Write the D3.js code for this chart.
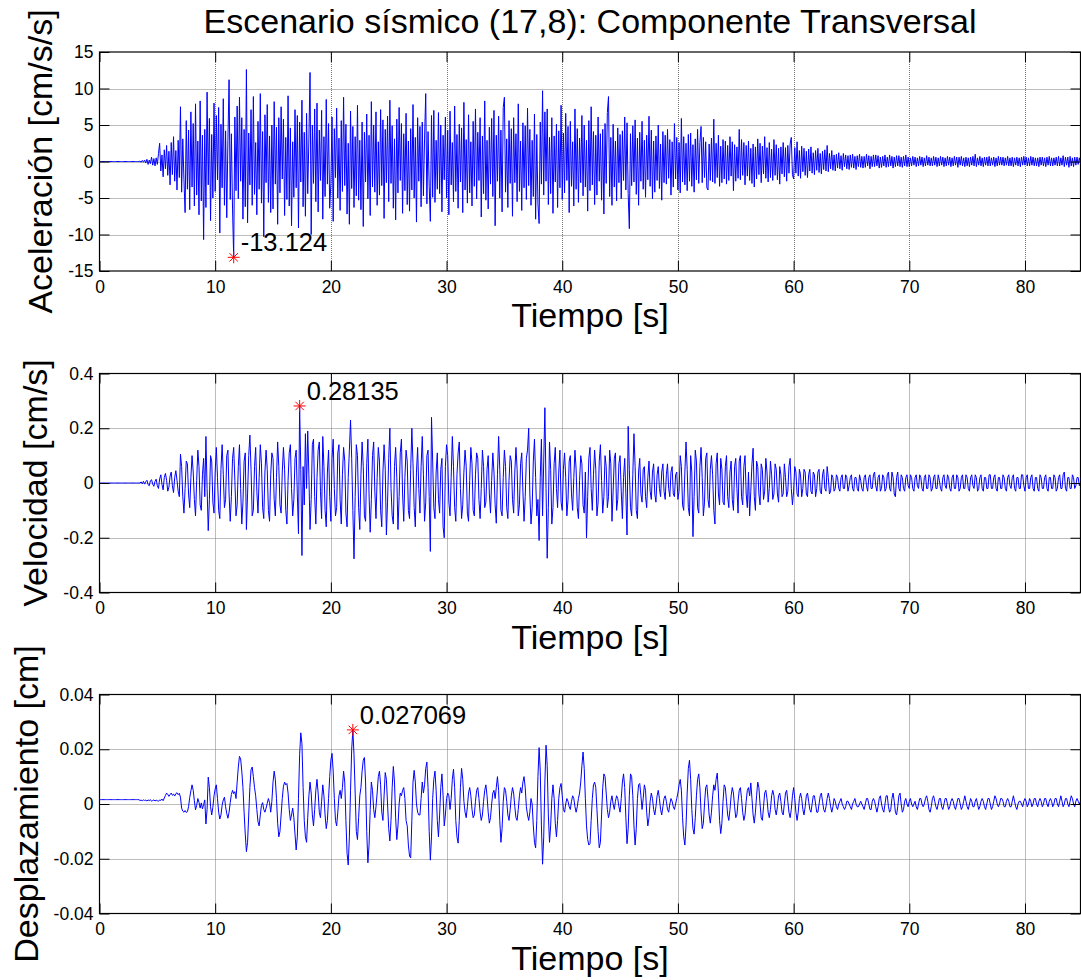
<!DOCTYPE html>
<html>
<head>
<meta charset="utf-8">
<script src="https://cdn.jsdelivr.net/npm/d3@7"></script>
<style>
  body { margin: 0; background: #fff; }
  text { font-family: "Liberation Sans", Arial, Helvetica, sans-serif; }
</style>
</head>
<body>
<script>
// sampling step of the records [s]
var dt = 0.1;
var tiempoMax = 84.8;

var titulo = "Escenario sísmico (17,8): Componente Transversal";
var etiquetaX = "Tiempo [s]";
var xTicks = [0, 10, 20, 30, 40, 50, 60, 70, 80];
var ticksAceleracion = [-15, -10, -5, 0, 5, 10, 15];
var ticksVelocidad = [-0.4, -0.2, 0, 0.2, 0.4];
var ticksDesplazamiento = [-0.04, -0.02, 0, 0.02, 0.04];

// Aceleracion [cm/s/s], one row per second
var aceleracion = [
0,0,0,0,0,0,0,0,0,0,
0,0,0,0,0,0,0,0,0,0,
0,0,0,0,0,0,0,0,0,0,
0,0,0,0,0,0.05,-0.1,0.15,-0.1,0.2,
-0.2,0.3,-0.4,0.2,-0.3,0.6,-0.5,0.4,-0.6,0.5,
-0.4,1.1,2.5,-1.3,0.9,-2.1,1.6,-1,2.2,-1.9,
1.4,-3.2,2.6,-1.8,3.4,-2.7,1.5,-3.9,2.9,-2.2,
7.5,-4.2,3.1,-2.5,-7,5.6,-3.8,4.3,-6.6,6.8,
-3.5,5.2,-6.1,7.9,-4.6,2.8,-7.3,8.3,-5.4,3.6,
-10.7,4.4,-6.3,9.5,-3.2,5.9,-8.1,3.7,-5,8,
-4.1,6.3,-2.5,7.4,-9.8,5.1,-3.6,8.6,-6,4.2,
-7.7,2.9,11.2,-5.2,3.8,-6.5,-13.124,6.1,-4,7.6,
-5.1,8.8,-2.7,6,-7.9,4.4,-6.2,12.6,-8.4,3.9,
-3.2,7.1,-6,8.9,-4.5,2.6,-7.3,5.5,-3.8,9.3,
-5.7,4.1,-10.3,6.4,-2.9,7.8,-5.6,3.5,-7,5,
-6.5,8.2,-3.1,4.7,-8.6,6,-4.3,7.5,-2.4,5.8,
-7.4,3.3,-5.2,9,-6.1,4.6,-8.8,2.7,-4.9,7.1,
-3.6,6.3,-9.1,5.4,-2.8,8.4,-6.2,4,-7.5,6.6,
-4.4,3.1,12.2,-10,5,-3,7.2,-5.5,8,-6.9,
4.3,-2.6,7,-7.9,3.4,-4.8,8.5,-3.1,5.2,-6.4,
-3,6.1,-8.2,4.5,-2.2,7.3,-5,3.2,-6.7,5.6,
-4.1,8.8,-3.3,5.1,-7.2,2.5,-8.6,6.9,-3.7,4.8,
-6.3,3.4,-4.7,7.7,-5.3,2.9,-6.6,5.4,-8.9,4,
-2.8,6.5,-5.1,3.6,-7.4,8.2,-3.5,5,-4.2,6.8,
-6,2.7,-4.6,7.1,-3.3,5.7,-7.8,4.4,-2.9,6.2,
-5.5,8.4,-3,4.9,-6.4,3.1,-8,5.8,-4.3,7.4,
-2.6,5.2,-7.1,3.8,-4,6.6,-5.9,2.8,-6.8,4.5,
-3.9,7.8,-5,3.3,-8.3,6,-2.7,4.8,-6.2,5.4,
-4.7,3.2,9.3,-5.8,4.1,-3.4,-8.2,6.3,-4.9,7,
-5.6,2.9,-3.8,6.7,-4.4,5,-6.9,3.6,-2.5,6.1,
-5,4.3,-7.3,6.9,-3.2,2.6,-5.5,7.6,-4.1,3.7,
-6.4,5.1,-2.8,4.6,-7,8.1,-3.9,3,-5.7,6.4,
-4.3,2.7,-6.1,5.5,-3.4,7.2,-5.1,4,-2.6,6,
-7.6,3.5,-4.4,8.3,-5.3,2.9,-6.5,4.7,-3.1,5.9,
-4.8,7,-8.8,3.6,-2.7,6.2,-5,4.3,-6.9,7.4,
8.8,-4.2,3.1,-6.3,5.6,-3,4.5,-7.5,6,-2.9,
3.8,-5.5,7.9,-4.1,2.8,-6.7,5.3,-3.6,4.9,-5.2,
7.3,-3.3,4.4,-6,2.9,-4.8,6.5,-7.9,3.7,-5.8,
-8.5,5.4,-3.1,9.7,-4.6,6.8,-2.7,7.2,-5.9,3.3,
-4.4,6,-7.1,3.5,-2.8,5.1,-6.3,4.2,-3.6,7.7,
-5.2,3.9,-4.3,6.6,-2.6,4.8,-7,5.5,-3.4,2.7,
-6.1,7.2,-3.8,4.5,-5.6,3.2,-2.9,6.3,-4.7,5,
-3.5,2.9,-6.8,5.6,-4,7.5,-3.2,4.1,-5.9,3.6,
-4.6,6.1,-2.7,3.8,-5.3,4.4,-7.2,5.2,-3,6.7,
8.9,-4.8,3.3,-6,5.1,-3.5,2.8,-5.4,4.6,-2.9,
3.7,-5.1,4.2,-2.6,6.1,-3.9,5.3,-4.4,-9.2,3.8,
-3.3,4.9,-2.8,5.7,-4.5,3.2,-6,4,-2.7,5.5,
-3.8,2.9,-4.9,3.6,-2.5,6.2,-3.4,4.3,-5.1,2.8,
-4.2,3.5,-2.6,5,-3.7,2.4,-5.3,4.1,-2.9,3.6,
-3.1,4.4,-2.3,3,-4.6,2.7,-3.5,5.2,-2.4,3.3,
-3.9,2.6,-4.3,5.9,-2.8,3.4,-3.2,2.5,-4,3.7,
-2.7,3.9,-3.4,2.3,-4.2,3.1,-2.5,4.4,-3,2.6,
4.8,-2.9,3.3,-2.2,2.7,-3.6,-3.9,2.4,-2.6,3.2,
-2.8,5.8,-3,2.5,-2.2,3.6,-3.4,2.1,-2.9,3,
-2.4,2.8,-3.1,2.2,-2.6,3.4,-2,2.7,-4,2.3,
-2.7,2,-2.3,4.4,-2.5,3,-1.9,2.6,-3.2,2.2,
-2,2.8,-2.6,1.8,-3,2.4,-3.5,2,-2.4,3.1,
-1.8,2.5,-2.9,2.1,-1.7,3.4,-2.3,1.9,-2.8,2.6,
-2.2,1.7,-2.6,3,-1.9,2.3,-2.5,1.8,-3.1,2,
-1.7,2.6,-2.1,1.9,-2.7,2.2,-1.6,2.4,3.3,-1.8,
-2.4,1.9,-1.6,2.7,-2,1.5,-2.3,2.1,-1.4,1.8,
-1.9,1.4,-2.2,1.7,-1.3,2,-1.6,1.2,-1.8,1.5,
-1.2,1.8,-1.5,1.1,-1.7,1.4,-1.1,1.6,-1.3,2.2,
-1.4,1.1,-1,1.5,-1.2,0.9,-1.3,1,-0.9,1.2,
-1,0.8,-1.2,1.1,-0.7,0.9,-1,0.8,-1.1,0.9,
-0.8,1,-0.9,0.7,-1.1,0.8,-0.7,1,-0.8,0.7,
-0.9,0.7,-0.8,1,-0.6,0.8,-1,0.7,-0.7,0.9,
-0.7,0.9,-0.6,0.8,-0.9,0.6,-0.8,0.7,-0.6,0.9,
-0.8,0.6,-0.7,0.9,-0.6,0.7,-0.9,0.6,-0.7,0.8,
-0.6,0.8,-0.7,0.6,-0.8,0.7,-0.6,0.9,-0.7,0.6,
-0.7,0.5,-0.6,0.7,-0.5,0.6,-0.7,0.5,-0.6,0.7,
-0.5,0.6,-0.7,0.5,-0.6,0.8,-0.5,0.6,-0.6,0.5,
-0.6,0.7,-0.5,0.6,-0.7,0.5,-0.6,0.7,-0.5,0.6,
-0.7,0.5,-0.6,0.7,-0.5,0.6,-0.7,0.5,-0.6,0.7,
-0.5,0.6,-0.8,0.6,-0.5,0.7,-0.6,0.5,-0.7,0.6,
-0.6,0.5,-0.7,0.6,-0.5,0.7,-0.6,1,-0.7,0.5,
-0.5,0.7,-0.6,0.5,-0.7,0.6,-0.5,0.6,-0.6,0.7,
-0.6,0.5,-0.5,0.6,-0.7,0.5,-0.6,0.7,-0.5,0.6,
-0.5,0.6,-0.6,0.5,-0.5,0.7,-0.6,0.5,-0.6,0.6,
-0.7,0.5,-0.5,0.6,-0.6,0.5,-0.7,0.6,-0.5,0.7,
-0.5,0.6,-0.6,0.5,-0.6,0.7,-0.5,0.6,-0.6,0.5,
-0.6,0.5,-0.7,0.6,-0.5,0.6,-0.6,0.5,-0.7,0.6,
-0.5,0.7,-0.6,0.5,-0.6,0.5,-0.5,0.6,-0.6,0.7,
-0.6,0.5,-0.5,0.8,-0.7,0.6,-0.5,0.6,-0.8,0.7,
-0.6,0.5,-0.7,0.6,-0.5,0.6,-0.4,0.5,-0.3
];

// Velocidad [cm/s], one row per second
var velocidad = [
0,0,0,0,0,0,0,0,0,0,
0,0,0,0,0,0,0,0,0,0,
0,0,0,0,0,0,0,0,0,0,
0,0,0,0,0,0,0.004,-0.003,0.006,-0.004,
0.005,0.01,-0.006,-0.01,0.008,0.012,-0.004,-0.012,0.006,0.014,
-0.01,-0.02,0.015,0.03,-0.005,-0.025,0.02,0.035,0.01,-0.03,
-0.015,0.025,0.04,-0.01,-0.035,0.02,0.045,0.01,-0.03,-0.05,
0.105,0.06,-0.05,-0.11,-0.02,0.08,0.07,-0.04,-0.09,0.02,
0.1,0.04,-0.06,-0.12,0.01,0.12,0.06,-0.08,-0.1,0.03,
0.09,-0.05,0.17,-0.02,-0.174,-0.06,0.1,0.08,-0.07,-0.11,
0.04,0.13,0.02,-0.1,-0.13,0.05,0.14,0.03,-0.09,-0.06,
0.1,0.12,-0.04,-0.14,-0.05,0.09,0.13,0.01,-0.12,-0.08,
0.06,0.14,-0.02,-0.15,-0.07,0.08,0.11,-0.17,-0.04,0.1,
0.175,0.05,-0.12,-0.1,0.06,0.13,-0.03,-0.11,0.02,0.14,
0.07,-0.09,-0.13,0.04,0.12,0.05,-0.1,-0.14,0.03,0.11,
0.09,-0.06,-0.12,0.02,0.15,0.06,-0.08,-0.11,0.04,0.13,
0.05,-0.1,-0.15,0.01,0.11,0.14,-0.02,-0.12,-0.06,0.09,
0.12,-0.04,-0.185,0.28135,0.05,-0.265,0.06,-0.08,0.18,-0.02,
0.19,0.03,-0.17,-0.06,0.14,0.16,-0.05,-0.15,0.02,0.12,
0.15,-0.03,-0.13,0.17,0.06,-0.1,-0.16,0.04,0.12,-0.05,
-0.14,0.09,0.16,-0.02,-0.12,-0.09,0.11,0.14,-0.06,-0.15,
0.03,0.13,0.08,-0.11,-0.16,0.02,0.12,0.23,0.09,-0.1,
-0.277,-0.05,0.14,0.1,-0.09,-0.17,0.03,0.15,0.06,-0.12,
-0.14,0.07,0.16,-0.04,-0.18,-0.06,0.1,0.15,-0.03,-0.13,
0.02,0.13,0.08,-0.1,-0.16,0.04,0.14,0.05,-0.19,-0.07,
0.09,0.2,-0.02,-0.12,-0.15,0.06,0.13,0.02,-0.17,-0.05,
0.11,0.16,-0.04,-0.14,0.02,0.12,0.08,-0.1,-0.13,0.05,
0.2,0.07,-0.09,-0.16,0.04,0.13,-0.02,-0.11,0.06,0.17,
0.03,-0.14,-0.07,0.1,0.12,-0.05,-0.25,0.24,0.08,-0.09,
-0.13,0.04,0.11,-0.06,-0.11,0.05,0.09,-0.16,-0.2,0.06,
0.14,0.1,-0.07,-0.12,0.02,0.17,0.06,-0.09,-0.14,0.03,
0.11,0.15,-0.02,-0.13,-0.08,0.04,0.12,0.06,-0.11,-0.14,
0.01,0.13,0.07,-0.1,-0.12,0.03,0.11,0.09,-0.06,-0.13,
-0.02,0.12,0.06,-0.09,-0.07,0.05,0.1,-0.04,-0.11,0.01,
0.11,0.04,-0.08,-0.147,0.03,0.17,0.05,-0.1,-0.12,0.02,
0.12,0.06,-0.09,-0.13,0.01,0.1,0.08,-0.06,-0.11,0.04,
0.13,0.05,-0.12,-0.08,0.07,0.11,-0.03,-0.14,-0.05,0.09,
0.12,0.2,-0.04,-0.15,-0.09,0.08,0.16,0.02,-0.12,-0.06,
-0.21,0.02,0.16,-0.12,0.08,0.275,-0.02,-0.275,-0.09,0.15,
0.05,-0.15,-0.09,0.07,0.13,-0.02,-0.09,0.04,0.12,-0.07,
-0.1,0.05,0.11,0.02,-0.12,-0.06,0.08,0.1,-0.04,-0.1,
0.02,0.12,0.05,-0.09,-0.13,0.01,0.1,0.07,-0.08,-0.11,
0.04,-0.2,-0.05,0.09,0.13,-0.02,-0.1,0.03,0.12,0.05,
-0.12,-0.07,0.08,0.14,0.01,-0.11,-0.05,0.1,0.06,-0.09,
-0.05,0.12,0.07,-0.14,-0.03,0.09,0.11,-0.1,-0.06,0.07,
0.1,-0.03,-0.13,0.02,0.09,-0.04,-0.19,0.207,0.05,-0.09,
-0.12,0.03,0.18,0.06,-0.1,-0.13,0.04,0.09,-0.04,-0.07,
0.05,0.06,-0.05,-0.09,0.02,0.08,-0.03,-0.06,0.04,0.07,
-0.04,-0.07,0.03,0.06,-0.02,-0.05,0.04,0.07,-0.03,-0.06,
0.03,0.07,-0.02,-0.05,0.04,0.06,-0.04,-0.05,0.03,0.04,
-0.06,-0.03,0.1,0.06,-0.08,-0.1,0.04,0.15,0.05,-0.09,
-0.12,0.1,0.04,-0.196,-0.05,0.12,0.08,-0.09,-0.11,0.06,
0.13,0.02,-0.12,-0.07,0.09,0.11,-0.06,-0.09,0.05,0.1,
0.03,-0.1,-0.15,0.07,0.11,-0.04,-0.08,0.09,0.05,-0.07,
-0.08,0.06,0.1,-0.05,-0.09,0.04,0.08,-0.06,-0.1,0.06,
0.09,-0.02,-0.11,0.08,0.1,-0.05,-0.08,0.06,0.1,-0.04,
-0.09,0.04,-0.12,-0.03,0.07,0.127,-0.05,-0.1,0.08,0.06,
-0.04,-0.08,0.07,0.05,-0.06,-0.03,0.09,0.04,-0.07,-0.02,
0.08,0.03,-0.06,-0.04,0.07,0.05,-0.04,-0.07,0.06,0.03,
-0.05,-0.04,0.07,0.02,-0.05,-0.03,0.06,0.09,-0.02,-0.08,
-0.03,0.06,0.04,-0.04,-0.05,0.05,0.03,-0.05,-0.02,0.05,
0.04,-0.04,-0.05,0.03,0.05,-0.03,-0.04,0.04,0.03,-0.05,
-0.02,0.04,0.05,-0.03,-0.04,0.03,0.05,-0.02,-0.03,0.06,
0.02,-0.04,-0.03,0.03,0.02,-0.03,-0.02,0.03,0.02,-0.02,
-0.03,0.02,0.03,-0.02,-0.02,0.03,0.02,-0.03,-0.01,0.02,
0.03,-0.02,-0.03,0.02,0.02,-0.02,-0.03,0.03,0.01,-0.02,
-0.03,0.02,0.03,-0.01,-0.03,0.02,0.03,-0.02,-0.02,0.03,
0.04,-0.01,-0.03,0.02,0.03,-0.03,-0.02,0.03,0.02,-0.03,
-0.02,0.03,0.04,-0.02,-0.03,0.04,0.02,-0.04,-0.05,0.02,
0.04,-0.02,-0.03,0.03,0.02,-0.02,-0.03,0.02,0.03,-0.01,
-0.02,0.03,0.02,-0.02,-0.03,0.02,0.03,-0.01,-0.02,0.03,
0.02,-0.02,-0.03,0.02,0.03,-0.02,-0.02,0.03,0.02,-0.03,
-0.02,0.02,0.03,-0.02,-0.02,0.03,0.01,-0.02,-0.03,0.02,
0.03,-0.01,-0.02,0.03,0.02,-0.02,-0.03,0.02,0.03,-0.02,
-0.02,0.03,0.02,-0.03,-0.02,0.02,0.03,-0.02,-0.02,0.03,
0.02,-0.02,-0.03,0.02,0.03,-0.01,-0.02,0.03,0.02,-0.03,
-0.02,0.02,0.03,-0.02,-0.03,0.02,0.02,-0.02,-0.02,0.03,
0.03,-0.02,-0.02,0.02,0.03,-0.02,-0.03,0.02,0.02,-0.02,
-0.02,0.03,0.02,-0.02,-0.03,0.02,0.03,-0.01,-0.02,0.02,
0.03,-0.02,-0.03,0.02,0.02,-0.02,-0.02,0.03,0.03,-0.01,
-0.03,0.02,0.03,-0.02,-0.02,0.02,0.03,-0.02,-0.03,0.02,
0.02,-0.02,-0.03,0.03,0.02,-0.02,-0.02,0.02,0.03,-0.02,
-0.03,0.02,0.02,-0.02,-0.02,0.03,0.02,-0.03,-0.02,0.02,
0.03,-0.02,-0.02,0.03,0.04,-0.02,-0.03,0.02,0.02,-0.02,
-0.02,0.03,0.02,-0.02,-0.01,0.02,0.02,-0.01,0
];

// Desplazamiento [cm], one row per second
var desplazamiento = [
0.0016,0.0016,0.0016,0.0016,0.0016,0.0016,0.0016,0.0016,0.0016,0.0016,
0.0016,0.0016,0.0016,0.0016,0.0016,0.0016,0.0016,0.0016,0.0016,0.0016,
0.0016,0.0016,0.0016,0.0016,0.0016,0.0016,0.0016,0.0016,0.0016,0.0016,
0.0016,0.0016,0.0016,0.0016,0.0016,0.0013,0.0014,0.0012,0.0015,0.0013,
0.0014,0.0011,0.0015,0.0012,0.0016,0.001,0.0013,0.0015,0.0011,0.0014,
0.0012,0.001,0.0015,0.0013,0.0018,0.0012,0.0022,0.0031,0.004,0.0035,
0.0028,0.0034,0.004,0.0032,0.0036,0.0029,0.0038,0.0041,0.0034,0.0039,
0.0025,-0.0015,-0.0026,-0.003,-0.0024,-0.0031,-0.0028,-0.001,0.0024,0.0048,
0.007,0.005,0.0012,-0.0021,-0.0005,0.002,0.0006,-0.0015,0.0004,-0.0018,
-0.0002,0.0015,-0.0073,-0.002,0.0098,0.006,-0.001,-0.004,-0.0012,0.003,
0.0055,0.007,0.002,-0.003,-0.0055,-0.004,-0.0005,0.0015,0.0025,-0.001,
-0.0035,-0.0052,-0.003,0.0005,0.0035,0.005,0.0038,0.0045,0.002,0.008,
0.0135,0.0174,0.0165,0.012,0.006,-0.003,-0.011,-0.0174,-0.014,-0.004,
0.006,0.0125,0.0135,0.01,0.006,0.003,-0.002,-0.0065,-0.008,-0.004,
-0.0005,0.0005,-0.002,-0.003,-0.0015,0.0002,0.002,0.0005,-0.003,0.001,
0.008,0.012,0.009,0.002,-0.007,-0.012,-0.01,-0.004,0.002,0.0065,
0.008,0.007,0.0075,0.004,-0.002,-0.006,-0.004,-0.0015,-0.005,-0.011,
-0.0168,-0.012,0.002,0.018,0.026,0.022,0.006,-0.006,-0.012,-0.014,
-0.005,0.003,0.008,0.004,-0.004,-0.008,-0.002,0.005,0.009,0.004,
-0.003,-0.005,0.001,0.007,0.003,-0.004,-0.009,-0.006,0.002,0.01,
0.016,0.0185,0.012,0.002,-0.006,-0.008,-0.003,0.003,0.005,0.002,
0.006,0.012,0.008,-0.006,-0.018,-0.0223,-0.012,0.005,0.02,0.027069,
0.018,0.004,-0.01,-0.013,-0.005,0.003,0.006,0.012,0.016,0.017,
0.008,-0.01,-0.0215,-0.015,-0.002,0.008,0.005,-0.002,-0.005,-0.001,
0.004,0.01,0.012,0.007,-0.003,-0.006,0.003,0.0115,0.009,0,
-0.009,-0.0135,-0.006,0.006,0.0137,0.008,-0.005,-0.013,-0.008,0,
0.004,0.003,0.005,0.006,0.002,-0.006,-0.008,-0.015,-0.019,-0.0197,
-0.006,0.008,0.0123,0.008,0,-0.003,-0.004,-0.004,0.002,0.008,
0.004,0.007,0.013,0.0153,0.006,-0.01,-0.0205,-0.012,0.002,0.009,
0.012,0.005,-0.006,-0.012,-0.004,0.006,0.011,0.003,-0.008,-0.004,
0.002,0.004,0.003,-0.002,0.002,0.009,0.0127,0.006,-0.006,-0.012,
-0.0143,-0.006,0.006,0.013,0.009,0.001,-0.003,-0.005,-0.001,0.004,
0.006,0.003,-0.002,-0.005,-0.004,0.001,0.005,0.006,0.002,-0.003,
-0.006,-0.004,0.001,0.005,0.007,0.003,-0.003,-0.007,-0.005,0,
0.004,0.005,0.002,0.006,0.01,0.005,-0.006,-0.014,-0.009,0.001,
0.006,0.005,0.001,-0.004,-0.006,-0.002,0.003,0.006,0.004,-0.001,
-0.005,-0.006,-0.002,0.003,0.006,0.004,0.008,0.01,0.006,-0.001,
-0.004,-0.006,-0.003,0.002,0,-0.008,-0.014,-0.016,-0.006,0.01,
0.0206,0.012,-0.008,-0.022,-0.012,0.008,0.0215,0.014,-0.004,-0.014,
-0.008,0.002,0.007,0.002,-0.007,-0.012,-0.006,0.002,0.006,0.0075,
0.003,-0.002,-0.003,0,0.002,0.001,-0.001,-0.002,0.001,0.003,
0.002,-0.001,-0.003,-0.001,0.002,0.004,0.008,0.014,0.019,0.013,
0.002,-0.008,-0.013,-0.015,-0.0145,-0.006,0.002,0.007,0.008,0.006,
-0.002,-0.01,-0.016,-0.014,-0.004,0.006,0.011,0.01,0.004,-0.002,
-0.005,-0.003,0.001,0.003,0,-0.002,0.001,0.003,0.002,-0.001,
-0.003,0.002,0.008,0.011,0.006,-0.005,-0.0145,-0.009,0.003,0.011,
0.01,0.003,-0.008,-0.015,-0.009,0.002,0.007,0.0075,0.003,-0.002,
0.002,0.007,0.005,-0.003,-0.008,-0.005,0.001,0.004,0.002,-0.002,
-0.004,-0.001,0.003,0.005,0.002,-0.002,-0.004,-0.001,0.002,0.003,
0.001,-0.002,-0.003,0,0.002,0.001,-0.001,-0.002,0,0.002,
0.004,0.007,0.009,0.005,-0.005,-0.012,-0.015,-0.008,0.004,0.013,
0.016,0.009,-0.002,-0.009,-0.011,-0.005,0.003,0.009,0.011,0.006,
-0.003,-0.009,-0.007,0,0.006,0.007,0.002,-0.004,-0.007,-0.003,
0.003,0.007,0.005,0.009,0.0113,0.004,-0.006,-0.0108,-0.007,0.001,
0.007,0.006,0.001,-0.004,-0.006,-0.002,0.003,0.006,0.004,-0.001,
-0.005,-0.004,0.001,0.005,0.006,0.002,-0.003,-0.006,-0.004,0.001,
0.005,0.006,0.003,0.0077,0.002,-0.004,-0.007,-0.003,0.003,0.008,
0.006,0,-0.005,-0.006,-0.001,0.004,0.005,0.002,-0.003,-0.005,
-0.002,0.003,0.005,0.003,-0.002,-0.004,-0.001,0.003,0.004,0.001,
-0.003,-0.004,0,0.004,0.005,0.001,-0.003,-0.005,-0.002,0.003,
0.006,0.002,-0.003,-0.006,-0.003,0.002,0.004,0.002,-0.002,-0.004,
-0.001,0.003,0.004,0.001,-0.002,-0.003,0,0.003,0.003,0,
-0.003,-0.003,0,0.003,0.004,0.001,-0.002,-0.003,-0.001,0.002,
0.004,0.002,-0.001,-0.003,-0.001,0.002,0.001,-0.001,-0.002,0,
0.001,0.002,0,-0.001,-0.002,-0.001,0.001,0.001,0,-0.001,
-0.002,0,0.001,0.002,0,-0.001,-0.001,0,0.001,0,
-0.001,-0.002,0,0.002,0.002,0,-0.002,-0.002,0.001,0.002,
0.001,-0.001,-0.003,-0.001,0.002,0.003,0,-0.002,-0.003,0,
0.003,0.003,-0.001,-0.003,-0.002,0.002,0.004,0.001,-0.003,-0.004,
-0.001,0.003,0.004,0,-0.003,-0.002,0.001,0.002,0,-0.001,
0.001,0.002,0,-0.001,0,0.001,-0.001,-0.002,0,0.002,
0.002,0,-0.001,0,0.002,0.003,0.001,-0.002,-0.003,-0.001,
0.002,0.003,0.001,-0.001,-0.002,0,0.002,0.002,-0.001,-0.002,
0,0.002,0.002,0,-0.002,-0.001,0.001,0.002,0.001,-0.001,
-0.002,0,0.002,0.002,0,-0.002,-0.001,0.001,0.003,0.001,
-0.001,-0.002,0,0.002,0.001,-0.001,-0.001,0.001,0.002,0,
-0.002,-0.001,0.001,0.002,0.001,-0.001,-0.002,0,0.002,0.002,
0,-0.002,-0.001,0.001,0.003,0.002,0,-0.001,0,0.002,
0.002,0.001,-0.001,-0.001,0.001,0.002,0.001,-0.001,-0.001,0.001,
0.003,0.001,-0.001,-0.002,0,0.001,0.001,0,-0.001,0.001,
0.002,0.001,-0.001,0,0.002,0.001,-0.001,0,0.002,0.002,
0,-0.001,0.001,0.002,0.001,-0.001,0,0.002,0.002,0,
-0.001,0.001,0.002,0.001,-0.001,0,0.002,0.002,0,-0.001,
0.001,0.003,0.001,-0.001,0,0.002,0.002,0,-0.001,0.001,
0.003,0.002,0,-0.001,0.001,0.002,0.001,0,0.001
];

var width = 1081, height = 980;
var left = 99.5, right = 1080.5;

var svg = d3.select("body").append("svg")
  .attr("width", width)
  .attr("height", height);

var x = d3.scaleLinear().domain([0, tiempoMax]).range([left, right]);

var paneles = [
  { data: aceleracion, ticks: ticksAceleracion, label: "Aceleración [cm/s/s]", top: 52, bottom: 271, labelX: 52, peak: "min" },
  { data: velocidad, ticks: ticksVelocidad, label: "Velocidad [cm/s]", top: 373.5, bottom: 592.5, labelX: 47, peak: "max" },
  { data: desplazamiento, ticks: ticksDesplazamiento, label: "Desplazamiento [cm]", top: 694.5, bottom: 913.5, labelX: 38, peak: "max" }
];

// title over the first axes
svg.append("text")
  .attr("x", (left + right) / 2)
  .attr("y", 33)
  .attr("text-anchor", "middle")
  .attr("font-size", 34)
  .text(titulo);

var asterisco = "M-6,0H6M0,-6V6M-4.2,-4.2L4.2,4.2M-4.2,4.2L4.2,-4.2";

paneles.forEach(function(p) {
  var y = d3.scaleLinear()
    .domain([p.ticks[0], p.ticks[p.ticks.length - 1]])
    .range([p.bottom, p.top]);

  var g = svg.append("g");

  // grid (dotted)
  g.selectAll(".vgrid").data(xTicks.slice(1)).enter().append("line")
    .attr("x1", d => Math.round(x(d)) + 0.5).attr("x2", d => Math.round(x(d)) + 0.5)
    .attr("y1", p.top).attr("y2", p.bottom)
    .attr("stroke", "#7a7a7a").attr("stroke-dasharray", "1,1");
  g.selectAll(".hgrid").data(p.ticks.slice(1, -1)).enter().append("line")
    .attr("x1", left).attr("x2", right)
    .attr("y1", d => Math.round(y(d)) + 0.5).attr("y2", d => Math.round(y(d)) + 0.5)
    .attr("stroke", "#7a7a7a").attr("stroke-dasharray", "1,1");

  // signal
  var line = d3.line()
    .x((d, i) => x(i * dt))
    .y(d => y(d));
  g.append("path")
    .datum(p.data)
    .attr("fill", "none")
    .attr("stroke", "#0000ff")
    .attr("stroke-width", 1)
    .attr("stroke-linejoin", "round")
    .attr("d", line);

  // axes, ticks pointing inward on all four sides
  var fmt = d => String(d);
  var xb = g.append("g").attr("transform", `translate(0, ${p.bottom})`)
    .call(d3.axisBottom(x).tickValues(xTicks).tickSizeInner(-10).tickSizeOuter(0).tickPadding(9.5).tickFormat(fmt));
  var xt = g.append("g").attr("transform", `translate(0, ${p.top})`)
    .call(d3.axisTop(x).tickValues(xTicks).tickSizeInner(-10).tickSizeOuter(0).tickFormat(""));
  var yl = g.append("g").attr("transform", `translate(${left}, 0)`)
    .call(d3.axisLeft(y).tickValues(p.ticks).tickSizeInner(-10).tickSizeOuter(0).tickPadding(6).tickFormat(fmt));
  var yr = g.append("g").attr("transform", `translate(${right}, 0)`)
    .call(d3.axisRight(y).tickValues(p.ticks).tickSizeInner(-10).tickSizeOuter(0).tickFormat(""));
  [xb, xt, yl, yr].forEach(function(a) {
    a.select(".domain").remove();
    a.attr("font-family", null).attr("font-size", 17.5);
    a.selectAll("line").attr("stroke", "#000");
    a.selectAll("text").attr("fill", "#000");
  });

  // box
  g.append("rect")
    .attr("x", left).attr("y", p.top)
    .attr("width", right - left).attr("height", p.bottom - p.top)
    .attr("fill", "none").attr("stroke", "#000").attr("stroke-width", 1.2);

  // labels
  g.append("text")
    .attr("x", (left + right) / 2)
    .attr("y", p.bottom + 56)
    .attr("text-anchor", "middle")
    .attr("font-size", 34)
    .text(etiquetaX);
  g.append("text")
    .attr("transform", `translate(${p.labelX}, ${(p.top + p.bottom) / 2}) rotate(-90)`)
    .attr("text-anchor", "middle")
    .attr("font-size", 34)
    .text(p.label);

  // peak marker and value
  var k = p.peak === "min" ? d3.minIndex(p.data) : d3.maxIndex(p.data);
  var v = p.data[k];
  g.append("path")
    .attr("d", asterisco)
    .attr("transform", `translate(${x(k * dt)}, ${y(v)})`)
    .attr("stroke", "#ff0000")
    .attr("fill", "none");
  g.append("text")
    .attr("x", x(k * dt) + 7)
    .attr("y", y(v) - 6)
    .attr("font-size", 25.5)
    .text(String(v));
});
</script>
</body>
</html>
